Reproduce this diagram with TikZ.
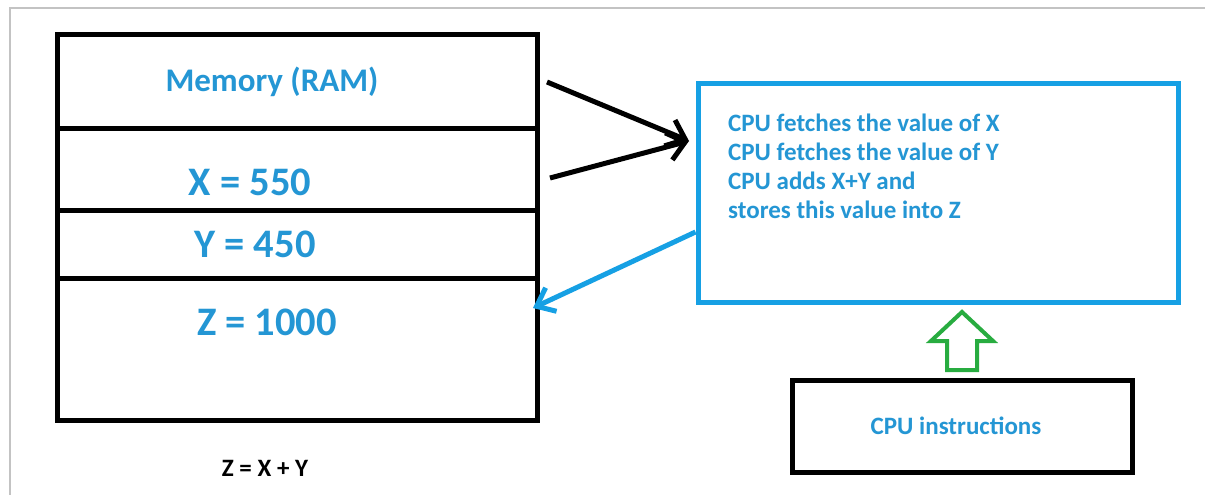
\documentclass[tikz,border=0pt]{standalone}
\usepackage{fontspec}
\setmainfont{Carlito}
\usetikzlibrary{arrows.meta}
\definecolor{cpublue}{RGB}{22,160,228}
\definecolor{txtblue}{RGB}{36,150,212}
\definecolor{arrgreen}{RGB}{40,172,64}
\definecolor{framegray}{RGB}{195,195,195}
\tikzset{
  cell/.style={draw=black, line width=5pt, minimum width=480pt, inner sep=0pt, fill=none},
  memtxt/.style={text=txtblue, font=\bfseries\fontsize{40.5}{42}\selectfont, inner sep=0pt},
  smalltxt/.style={text=txtblue, font=\bfseries\fontsize{25}{29}\selectfont, inner sep=0pt},
  blackarrow/.style={draw=black, line width=5pt, -{Straight Barb[length=17pt,width=28pt,line width=5pt]}},
  bluearrow/.style={draw=cpublue, line width=5pt, -{Straight Barb[length=16pt,width=26pt,line width=5pt]}}
}
\begin{document}
\begin{tikzpicture}[x=1pt,y=-1pt]
\useasboundingbox (0,0) rectangle (1205,495);
\fill[white] (0,0) rectangle (1205,495);
\draw[framegray, line width=1.2pt] (10,495) -- (10,8) -- (1205,8);
% memory cells
\node[cell, minimum height=93pt] (mem) at (297,81.5) {};
\node[cell, minimum height=82pt] (xcell) at (297,169) {};
\node[cell, minimum height=68pt] (ycell) at (297,244) {};
\node[cell, minimum height=142pt] (zcell) at (297,349) {};
\node[memtxt, font=\bfseries\fontsize{33}{36}\selectfont] (memlbl) at (272,82) {Memory (RAM)};
\node[memtxt] (xlbl) at (250,182) {X = 550};
\node[memtxt] (ylbl) at (255,244) {Y = 450};
\node[memtxt] (zlbl) at (267,322) {Z = 1000};
\node[inner sep=0pt, font=\bfseries\fontsize{25}{28}\selectfont] (eq) at (265,468) {Z = X + Y};
% CPU box
\node[draw=cpublue, line width=5pt, minimum width=480pt, minimum height=218pt, inner sep=0pt] (cpu) at (938,193) {};
\node[smalltxt, anchor=north west, align=left] (cputxt) at (728,114) {CPU fetches the value of X\\CPU fetches the value of Y\\CPU adds X+Y and\\stores this value into Z};
% instructions box
\node[draw=black, line width=5pt, minimum width=340pt, minimum height=92pt, inner sep=0pt] (instr) at (962,426) {};
\node[smalltxt] (instrlbl) at (956,426) {CPU instructions};
% arrows
\coordinate (a1s) at (547,82);
\coordinate (a2s) at (550,178);
\coordinate (ah) at (689,141);
\draw[blackarrow] (a1s) -- (ah);
\draw[blackarrow] (a2s) -- (ah);
\coordinate (bs) at (cpu.west |- 0,232);
\coordinate (be) at (533,308);
\draw[bluearrow] (bs) -- (be);
% green hollow up arrow
\draw[arrgreen, line width=4pt, line join=miter] (962,312) -- (993,341) -- (977,341) -- (977,370) -- (947,370) -- (947,341) -- (931,341) -- cycle;
\end{tikzpicture}
\end{document}
